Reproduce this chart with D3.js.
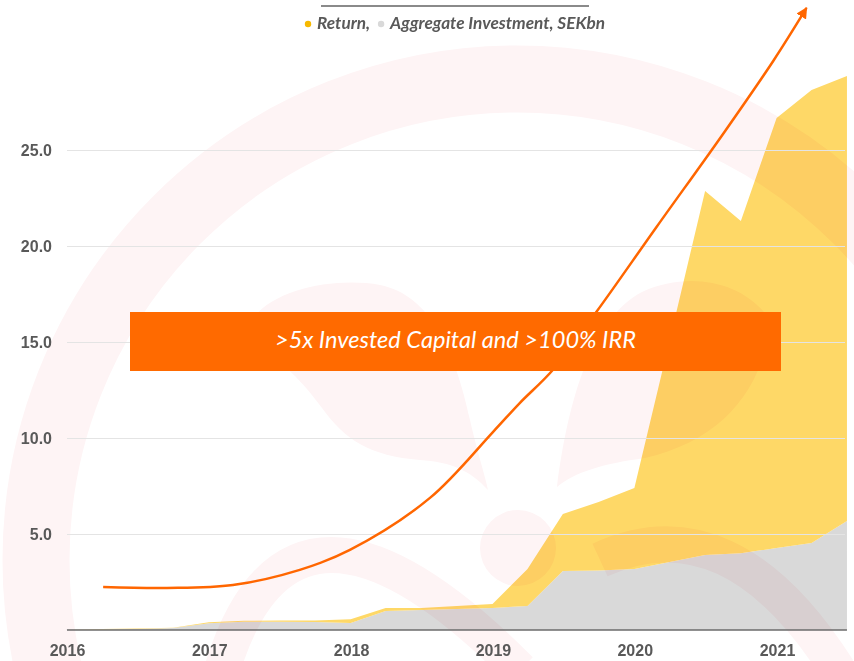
<!DOCTYPE html>
<html>
<head>
<meta charset="utf-8">
<script src="https://cdn.jsdelivr.net/npm/d3@7"></script>
<style>
  body { margin: 0; background: #fff; }
  svg { display: block; font-family: Lato, "Open Sans", sans-serif; }
</style>
</head>
<body>
<div id="chart"></div>
<script>
// quarter-end dates and values, SEKbn
const quarters = [
    "2015-12-31", "2016-03-31", "2016-06-30", "2016-09-30", "2016-12-31",
    "2017-03-31", "2017-06-30", "2017-09-30", "2017-12-31",
    "2018-03-31", "2018-06-30", "2018-09-30", "2018-12-31",
    "2019-03-31", "2019-06-30", "2019-09-30", "2019-12-31",
    "2020-03-31", "2020-06-30", "2020-09-30", "2020-12-31",
    "2021-03-31", "2021-06-30"
];
const investment = [0.02, 0.03, 0.05, 0.10, 0.35, 0.43, 0.43, 0.42, 0.36, 0.99, 1.04, 1.10, 1.15,
    1.25, 3.07, 3.10, 3.18, 3.54, 3.90, 4.00, 4.27, 4.53, 5.68];
const returns = [0.01, 0.02, 0.03, 0.02, 0.06, 0.05, 0.06, 0.08, 0.20, 0.16, 0.11, 0.15, 0.20,
    1.93, 2.97, 3.57, 4.22, 11.56, 18.97, 17.30, 22.40, 23.60, 23.17];

// hand drawn growth arrow
const trendDates = ["2016-04-03", "2016-09-14", "2017-03-03", "2017-08-22", "2017-12-29",
    "2018-07-23", "2019-01-01", "2019-03-11", "2019-06-04", "2019-09-24", "2020-02-26",
    "2020-08-17", "2020-12-24", "2021-03-18"];
const trendValues = [2.24, 2.19, 2.34, 3.13, 4.17, 6.88, 10.31, 11.82, 13.54, 16.56, 20.99,
    25.89, 29.69, 32.40];

const yTicks = [5, 10, 15, 20, 25];
const xTicks = ["2016-01-01", "2017-01-01", "2018-01-01", "2019-01-01", "2020-01-01", "2021-01-01"];
const legendLabels = ["Return,", "Aggregate Investment, SEKbn"];
const legendColors = ["#f7b900", "#d9d9d9"];
const bannerText = ">5x Invested Capital and >100% IRR";

const width = 854;
const height = 661;
const parseDate = d3.timeParse("%Y-%m-%d");

const svg = d3.select('#chart').append('svg')
    .attr('width', width)
    .attr('height', height);

const x = d3.scaleTime()
    .domain([parseDate(xTicks[0]), parseDate(xTicks[xTicks.length - 1])])
    .range([67, 777]);
const y = d3.scaleLinear()
    .domain([0, 25])
    .range([630, 150]);

// stacked areas
const table = quarters.map((q, i) => ({ date: parseDate(q), investment: investment[i], ret: returns[i] }));
const series = d3.stack().keys(['investment', 'ret'])(table);
const areaColor = { investment: '#d9d9d9', ret: '#fed867' };

const area = d3.area()
    .x(d => x(d.data.date))
    .y0(d => y(d[0]))
    .y1(d => y(d[1]));

svg.append('g')
    .selectAll('path')
    .data(series)
    .join('path')
    .attr('d', area)
    .attr('fill', d => areaColor[d.key]);

// faint logo watermark in the background
const wmColor = '#fef4f5';
const wm = svg.append('g')
    .style('mix-blend-mode', 'multiply')
    .attr('fill', wmColor)
    .attr('stroke', wmColor);

wm.append('circle')
    .attr('cx', 517).attr('cy', 560).attr('r', 481)
    .attr('fill', 'none').attr('stroke-width', 67);
wm.append('path')
    .attr('stroke', 'none')
    .attr('d', 'M245,335 C255,292 330,276 380,285 C430,295 455,350 470,420 C478,455 485,475 488,490 C470,470 450,462 420,460 C370,456 345,440 322,408 C300,378 280,360 245,335 Z');
wm.append('path')
    .attr('stroke', 'none')
    .attr('d', 'M557,487 C568,400 592,318 642,292 C690,270 745,282 770,320 C765,385 725,440 645,458 C602,464 575,472 557,487 Z');
wm.append('circle')
    .attr('stroke', 'none')
    .attr('cx', 518).attr('cy', 548).attr('r', 38);
wm.append('path')
    .attr('fill', 'none').attr('stroke-width', 36)
    .attr('d', 'M222,670 Q292,440 520,670');
wm.append('path')
    .attr('fill', 'none').attr('stroke-width', 36)
    .attr('d', 'M600,560 Q730,500 838,670');

// gridlines and y labels
const yAxis = svg.append('g')
    .attr('transform', 'translate(67,0)')
    .call(d3.axisLeft(y)
        .tickValues(yTicks)
        .tickSize(-(845 - 67))
        .tickPadding(15)
        .tickFormat(d3.format('.1f')));
yAxis.select('.domain').remove();
yAxis.selectAll('line').attr('stroke', '#e4e4e4');
yAxis.selectAll('text')
    .attr('fill', '#595959')
    .style('font-size', '16px')
    .style('font-weight', 'bold');

// x axis
const xAxis = svg.append('g')
    .attr('transform', 'translate(0,630)')
    .call(d3.axisBottom(x)
        .tickValues(xTicks.map(parseDate))
        .tickSize(0)
        .tickPadding(15)
        .tickFormat(d3.timeFormat('%Y')));
xAxis.select('.domain').remove();
xAxis.selectAll('text')
    .attr('fill', '#595959')
    .style('font-size', '16px')
    .style('font-weight', 'bold');

svg.append('line')
    .attr('x1', x.range()[0])
    .attr('x2', x(parseDate(quarters[quarters.length - 1])))
    .attr('y1', y(0))
    .attr('y2', y(0))
    .attr('stroke', '#6b6b6b')
    .attr('stroke-width', 1.5);

// trend arrow
svg.append('defs').append('marker')
    .attr('id', 'arrow')
    .attr('viewBox', '0 0 10 10')
    .attr('refX', 9)
    .attr('refY', 5)
    .attr('markerWidth', 4.5)
    .attr('markerHeight', 4.5)
    .attr('orient', 'auto')
    .append('path')
    .attr('d', 'M0,0 L10,5 L0,10 Z')
    .attr('fill', '#ff6600');

const trendLine = d3.line()
    .x(d => x(parseDate(d)))
    .y((d, i) => y(trendValues[i]))
    .curve(d3.curveCatmullRom.alpha(0.5));

svg.append('path')
    .attr('d', trendLine(trendDates))
    .attr('fill', 'none')
    .attr('stroke', '#ff6600')
    .attr('stroke-width', 2.5)
    .attr('marker-end', 'url(#arrow)');

// banner
svg.append('rect')
    .attr('x', 130)
    .attr('y', 312)
    .attr('width', 651)
    .attr('height', 59)
    .attr('fill', '#ff6a00');

const banner = svg.append('text')
    .attr('x', 455.5)
    .attr('y', 348)
    .attr('text-anchor', 'middle')
    .attr('fill', '#ffffff')
    .style('font-family', 'Lato, sans-serif')
    .style('font-size', '20px')
    .style('font-style', 'italic')
    .text(bannerText);
// fit the banner text to the width it has in the original slide
const bw = banner.node().getComputedTextLength();
banner.style('font-size', (20 * 361 / bw).toFixed(2) + 'px');

// legend
svg.append('line')
    .attr('x1', 321).attr('x2', 589)
    .attr('y1', 6).attr('y2', 6)
    .attr('stroke', '#8a8a8a')
    .attr('stroke-width', 2);

const legend = svg.append('g');
const legendTexts = legendLabels.map(label => legend.append('text')
    .attr('y', 29)
    .attr('fill', '#595959')
    .style('font-size', '15px')
    .style('font-style', 'italic')
    .style('font-weight', 'bold')
    .text(label));
const lw = legendTexts[1].node().getComputedTextLength();
const legendSize = 15 * 215 / lw;
legendTexts.forEach(t => t.style('font-size', legendSize.toFixed(2) + 'px'));

let lx = 0;
legendLabels.forEach((label, i) => {
    legend.append('circle')
        .attr('cx', lx + 3)
        .attr('cy', 24)
        .attr('r', 3.2)
        .attr('fill', legendColors[i]);
    legendTexts[i].attr('x', lx + 12);
    lx += 12 + legendTexts[i].node().getComputedTextLength() + 8;
});
const legendWidth = lx - 8;
legend.attr('transform', `translate(${455 - legendWidth / 2},0)`);
</script>
</body>
</html>
